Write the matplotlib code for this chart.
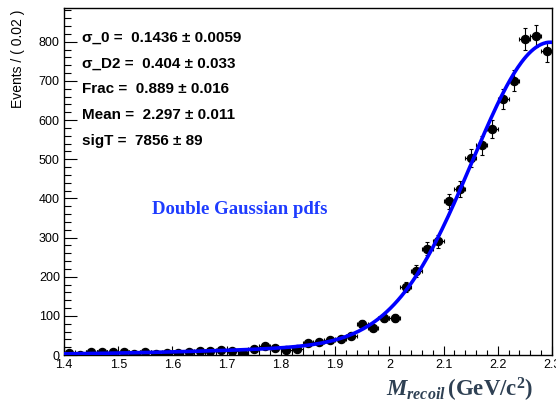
import math
import numpy as np
import matplotlib
matplotlib.use("Agg")
import matplotlib.pyplot as plt
from matplotlib.ticker import MultipleLocator, FuncFormatter

# recoil mass histogram, 0.02 GeV bins from 1.4 to 2.3
bin_centres = np.round(np.arange(1.41, 2.30, 0.02), 2)
counts = np.array([4, 1, 7, 8, 7, 7, 2, 7, 3, 4,
                   4, 8, 10, 11, 12, 10, 6, 15, 22, 17,
                   12, 16, 30, 32, 38, 40, 49, 80, 69, 95,
                   94, 174, 214, 271, 290, 392, 424, 503, 535, 577,
                   654, 700, 806, 815, 775])

# fit results
sigma0 = 0.1436
sigma_d2 = 0.404
frac = 0.889
mean = 2.297
sig_t = 7856
lo, hi, bw = 1.4, 2.3, 0.02

par_labels = ["σ_0 =  0.1436 ± 0.0059",
              "σ_D2 =  0.404 ± 0.033",
              "Frac =  0.889 ± 0.016",
              "Mean =  2.297 ± 0.011",
              "sigT =  7856 ± 89"]


def gaus_norm(x, m, s):
    # gaussian normalised inside the fit range
    cdf = lambda v: 0.5 * (1 + math.erf((v - m) / (s * math.sqrt(2))))
    area = s * math.sqrt(2 * math.pi) * (cdf(hi) - cdf(lo))
    return np.exp(-0.5 * ((x - m) / s) ** 2) / area


xs = np.linspace(lo, hi, 400)
model = sig_t * bw * (frac * gaus_norm(xs, mean, sigma0)
                      + (1 - frac) * gaus_norm(xs, mean, sigma_d2))

fig = plt.figure(figsize=(5.56, 4.05), dpi=100)
ax = fig.add_axes([64 / 556, 1 - 355 / 405, 488 / 556, 347 / 405])

ax.errorbar(bin_centres, counts, xerr=bw / 2, yerr=np.sqrt(counts),
            fmt="o", color="black", ms=5.8, elinewidth=0.8,
            capsize=1.6, capthick=0.8, zorder=2)
ax.plot(xs, model, color="#0000ff", lw=2.6, zorder=3)

ax.set_xlim(lo, hi)
ax.set_ylim(0, 886)
ax.xaxis.set_major_locator(MultipleLocator(0.1))
ax.xaxis.set_minor_locator(MultipleLocator(0.02))
ax.yaxis.set_major_locator(MultipleLocator(100))
ax.yaxis.set_minor_locator(MultipleLocator(20))
ax.xaxis.set_major_formatter(FuncFormatter(lambda v, p: "%g" % round(v, 2)))
ax.tick_params(which="both", direction="in", top=False, right=False,
               labelsize=9, width=0.8)
ax.tick_params(axis="y", which="major", length=9.4, pad=3)
ax.tick_params(axis="y", which="minor", length=5)
ax.tick_params(axis="x", which="major", length=6.6, pad=3)
ax.tick_params(axis="x", which="minor", length=3.6)
for lab in ax.get_xticklabels() + ax.get_yticklabels():
    lab.set_family("Liberation Sans")
for sp in ax.spines.values():
    sp.set_linewidth(1.0)

fig.text(18 / 556, 1 - 10 / 405, "Events / ( 0.02 )", rotation=90,
         ha="center", va="top", fontsize=10, family="Liberation Sans")

for k, txt in enumerate(par_labels):
    fig.text(82 / 556, 1 - (38 + 25.7 * k) / 405, txt, ha="left",
             va="center", fontsize=11, fontweight="bold",
             family="Liberation Sans")

fig.text(240 / 556, 1 - 209 / 405, "Double Gaussian pdfs", ha="center",
         va="center", fontsize=13.5, fontweight="bold",
         family="Liberation Serif", color="#1e3cff")

plt.rcParams["mathtext.fontset"] = "custom"
plt.rcParams["mathtext.it"] = "Liberation Serif:italic:bold"
plt.rcParams["mathtext.rm"] = "Liberation Serif:bold"
plt.rcParams["mathtext.bf"] = "Liberation Serif:bold"
fig.text(533 / 556, 1 - 390 / 405, r"$M_{recoil}\,\mathrm{(GeV/c^{2})}$",
         ha="right", va="center", fontsize=16.5, color="#2e4053")

fig.savefig("out.png", dpi=100)
